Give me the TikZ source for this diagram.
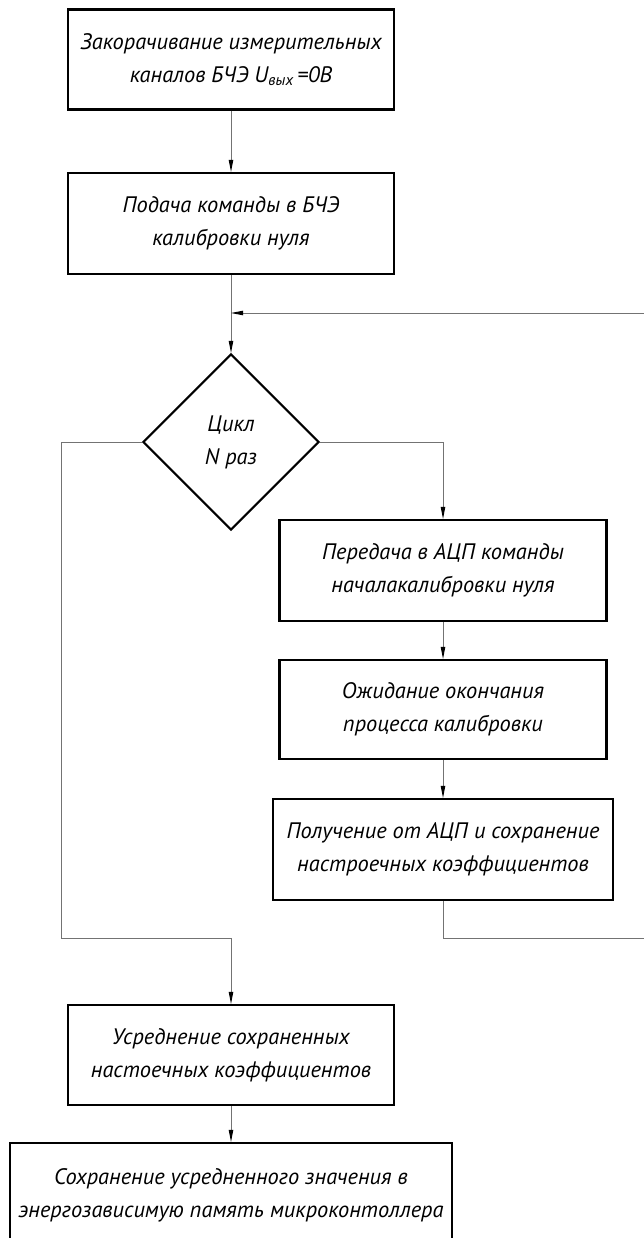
\documentclass[tikz,border=0pt]{standalone}
\usepackage{fontspec}
\setmainfont{PT Sans}
\usetikzlibrary{shapes.geometric, arrows.meta, positioning, calc}

\newcommand{\blocktext}{\itshape\fontsize{22.4}{33}\selectfont}

\begin{document}
\begin{tikzpicture}[x=1pt, y=-1pt]
    % --- Style Definitions ---
    \tikzset{
        % Process blocks
        block style/.style={
            draw=black,
            line width=2.1pt,
            minimum width=326pt,
            minimum height=100pt,
            inner sep=0pt,
            align=center,
            font=\blocktext
        },
        % Loop condition
        cond style/.style={
            diamond,
            aspect=1,
            draw=black,
            line width=2.1pt,
            minimum size=176pt,
            inner sep=0pt,
            align=center,
            font=\blocktext
        },
        % Connectors
        flow line/.style={draw=black!55, line width=0.9pt},
        flow arrow/.style={
            flow line,
            -{Triangle[length=12pt, width=4.4pt, black]}
        }
    }

    \useasboundingbox (0,0) rectangle (644,1238);

    % ==========================================
    % PREPARATION
    % ==========================================
    \node[block style] (zakor) at (231,59.5)
        {Закорачивание измерительных\\каналов БЧЭ U\textsubscript{вых}\,=0В};
    \node[block style, minimum height=101pt] (podacha) at (231,223.5)
        {Подача команды в БЧЭ\\калибровки нуля};

    % ==========================================
    % LOOP: N times
    % ==========================================
    \node[cond style] (cycle) at (231,442) {Цикл\\N раз};

    \node[block style, minimum width=327pt, minimum height=101pt] (peredacha) at (443,570.5)
        {Передача в АЦП команды\\началакалибровки нуля};
    \node[block style, minimum width=327pt, minimum height=99pt] (ozhid) at (443,709.5)
        {Ожидание окончания\\процесса калибровки};
    \node[block style, minimum width=340pt, minimum height=101pt] (poluch) at (443,849.5)
        {Получение от АЦП и сохранение\\настроечных коэффициентов};

    % ==========================================
    % RESULT
    % ==========================================
    \node[block style] (usred) at (231,1055)
        {Усреднение сохраненных\\настоечных коэффициентов};
    \node[block style, minimum width=442pt, minimum height=104pt] (sohran) at (231,1195)
        {Сохранение усредненного значения в\\энергозависимую память микроконтоллера};

    % Turning points
    \coordinate (merge) at (231,313);
    \coordinate (loopB) at (644,938);
    \coordinate (loopT) at (644,313);
    \coordinate (exitL) at (61,938);

    % Connectors
    \draw[flow arrow] (zakor.south) -- (podacha.north);
    \draw[flow arrow] (podacha.south) -- (cycle.north);
    \draw[flow arrow] (cycle.east) -| (peredacha.north);
    \draw[flow arrow] (peredacha.south) -- (ozhid.north);
    \draw[flow arrow] (ozhid.south) -- (poluch.north);
    \draw[flow arrow] (poluch.south) |- (loopB) -- (loopT) -- (merge);
    \draw[flow arrow] (cycle.west) -| (exitL) -| (usred.north);
    \draw[flow arrow] (usred.south) -- (sohran.north);

\end{tikzpicture}
\end{document}
